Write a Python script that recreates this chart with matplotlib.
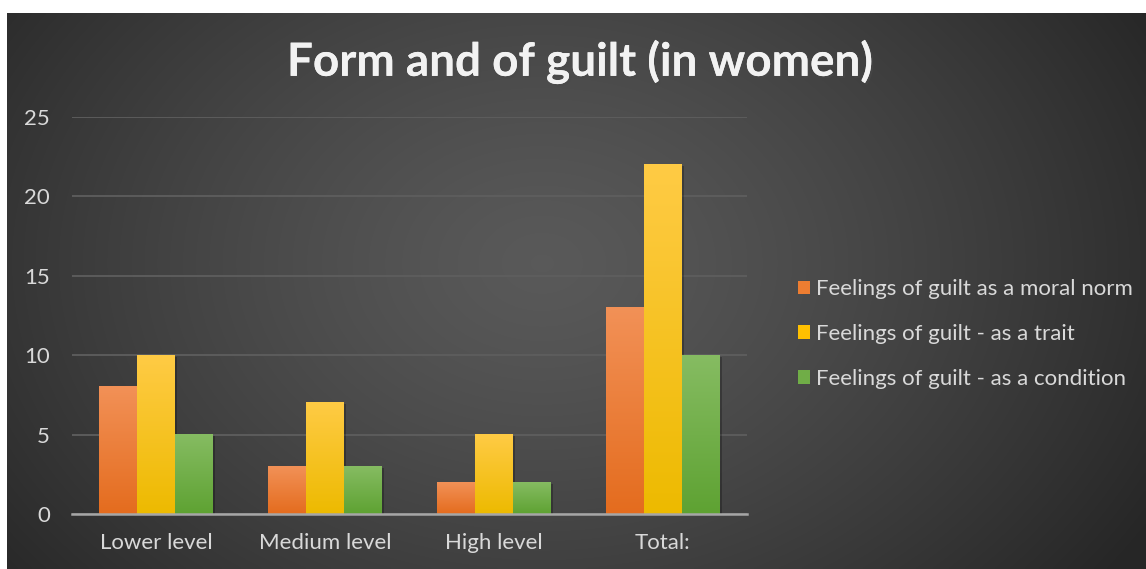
import numpy as np
import matplotlib
matplotlib.use("Agg")
import matplotlib.pyplot as plt
import matplotlib.patheffects as pe
from matplotlib.colors import LinearSegmentedColormap
from matplotlib.patches import Patch, Rectangle

plt.rcParams['font.family'] = ['Lato', 'DejaVu Sans']

# data
categories = ["Lower level", "Medium level", "High level", "Total:"]
series_names = ["Feelings of guilt as a moral norm",
                "Feelings of guilt - as a trait",
                "Feelings of guilt - as a condition"]
moral_norm = [8, 3, 2, 13]
trait = [10, 7, 5, 22]
condition = [5, 3, 2, 10]
y_ticks = [0, 5, 10, 15, 20, 25]

# (top, bottom) gradient colours per series
grad_cols = [("#F29157", "#E46C1E"),
             ("#FFCB45", "#EDBA00"),
             ("#86BC62", "#5EA232")]
legend_cols = ["#ED7D31", "#FFC000", "#70AD47"]
txt_col = "#D9D9D9"

W, H = 1146, 569
fig = plt.figure(figsize=(W / 100, H / 100), dpi=100)
fig.patch.set_facecolor("white")

# dark radial background
bg = fig.add_axes([7 / W, 0, 1 - 7 / W, 1 - 13 / H])
bg.set_axis_off()
xx, yy = np.meshgrid(np.linspace(0, 1, 400), np.linspace(0, 1, 200))
d = np.sqrt(((xx - 0.47) / 0.62) ** 2 + ((yy - 0.55) / 0.95) ** 2)
d = np.clip(d, 0, 1)
shade = 0.35 - 0.20 * d ** 1.3
bg.imshow(np.dstack([shade, shade, shade]), aspect='auto', extent=[0, 1, 0, 1],
          origin='lower', interpolation='bilinear')
bg.set_xlim(0, 1)
bg.set_ylim(0, 1)

ax = fig.add_axes([72 / W, (H - 514) / H, (747 - 72) / W, (514 - 117) / H])
ax.patch.set_alpha(0)

x = np.arange(len(categories))
bw = 0.225
all_series = [moral_norm, trait, condition]
for i, vals in enumerate(all_series):
    bars = ax.bar(x + (i - 1) * bw, vals, bw, color="none", zorder=3)
    cmap = LinearSegmentedColormap.from_list("g%d" % i, [grad_cols[i][1], grad_cols[i][0]])
    for b in bars:
        x0, w, h = b.get_x(), b.get_width(), b.get_height()
        # soft shadow
        ax.add_patch(Rectangle((x0 + 0.012, 0), w, h - 0.1, facecolor="black",
                               alpha=0.25, edgecolor="none", zorder=2))
        ax.imshow(np.linspace(0, 1, 256).reshape(-1, 1), cmap=cmap, aspect='auto',
                  extent=[x0, x0 + w, 0, h], origin='lower', zorder=3)

ax.set_xlim(-0.5, len(categories) - 0.5)
ax.set_ylim(0, 25)
ax.set_yticks(y_ticks)
ax.set_xticks(x)
ax.set_xticklabels(categories)
ax.tick_params(axis='both', length=0, colors=txt_col, labelsize=16)
ax.tick_params(axis='x', pad=14)
ax.tick_params(axis='y', pad=16)
for lab in ax.get_yticklabels():
    lab.set_horizontalalignment('right')
ax.grid(axis='y', color="#5E5E5E", linewidth=1.3, zorder=0)
for s in ["top", "right", "left"]:
    ax.spines[s].set_visible(False)
ax.spines["bottom"].set_color("#A6A6A6")
ax.spines["bottom"].set_linewidth(1.8)
ax.spines["bottom"].set_zorder(4)

fig.text(580 / W, 1 - 62 / H, "Form and of guilt (in women)", ha='center', va='center',
         fontsize=33, fontweight='bold', color="#F2F2F2",
         path_effects=[pe.withSimplePatchShadow(offset=(1.5, -1.5), alpha=0.5), pe.Normal()])

handles = [Patch(facecolor=c, edgecolor='none') for c in legend_cols]
leg = fig.legend(handles, series_names, loc='center left',
                 bbox_to_anchor=(787 / W, (H - 334) / H), frameon=False,
                 fontsize=16, labelcolor=txt_col, handlelength=0.55, handleheight=0.55,
                 handletextpad=0.25, labelspacing=1.12, borderpad=0)

fig.savefig("out.png", dpi=100, facecolor=fig.get_facecolor())
